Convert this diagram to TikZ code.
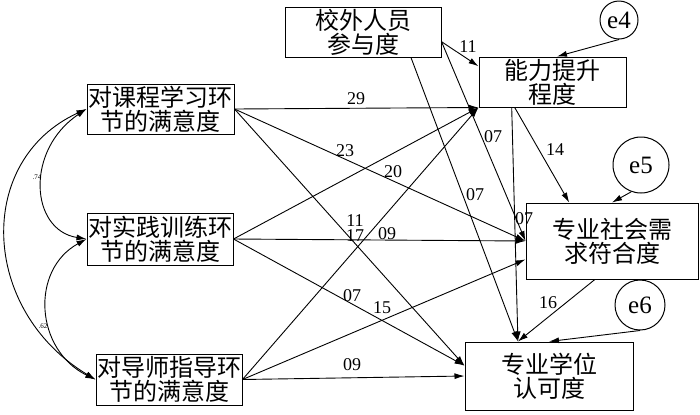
\documentclass[tikz,border=0pt]{standalone}
\usepackage{fontspec}
\setmainfont{Liberation Serif}
\newfontfamily\cjk{Noto Sans CJK SC}
\usetikzlibrary{arrows.meta}

\begin{document}
\begin{tikzpicture}[x=0.5pt, y=-0.5pt, line width=0.45pt,
    every node/.style={font=\fontsize{9}{9}\selectfont},
    var/.style={draw, line width=0.5pt, inner sep=0pt, align=center, font=\cjk\fontsize{12}{12}\selectfont},
    err/.style={draw, line width=0.5pt, circle, inner sep=0pt, font=\fontsize{12.5}{13}\selectfont},
    reg/.style={-{Latex[length=5pt,width=3pt]}},
    cov/.style={{Latex[length=5pt,width=3pt]}-{Latex[length=5pt,width=3pt]}},
    corlbl/.style={font=\fontsize{3.5}{4}\selectfont, inner sep=0pt}]

\useasboundingbox (0,0) rectangle (700,414);

% --- OBSERVED VARIABLES ---
\node[var, minimum width=78pt, minimum height=25pt] (Out) at (363,32) {校外人员\\参与度};
\node[var, minimum width=73.5pt, minimum height=25pt] (Abil) at (552.5,82) {能力提升\\程度};
\node[var, minimum width=73.5pt, minimum height=25pt] (Course) at (160.5,109) {对课程学习环\\节的满意度};
\node[var, minimum width=73pt, minimum height=26pt] (Prac) at (160,239) {对实践训练环\\节的满意度};
\node[var, minimum width=73pt, minimum height=25.5pt] (Tutor) at (169,379.5) {对导师指导环\\节的满意度};
\node[var, minimum width=86pt, minimum height=38pt] (Need) at (612,241) {专业社会需\\求符合度};
\node[var, minimum width=84pt, minimum height=34pt] (Recog) at (549,376) {专业学位\\认可度};

% --- ERROR TERMS ---
\node[err, minimum size=19pt] (E4) at (619,20) {e4};
\node[err, minimum size=28pt] (E5) at (641,165) {e5};
\node[err, minimum size=25pt] (E6) at (640,305) {e6};

% --- CORRELATIONS ---
\draw[cov] (Course.west) .. controls (25,150) and (30,230) .. (Prac.west);
\draw[cov] (Prac.west) .. controls (30,270) and (35,350) .. (Tutor.west);
\draw[cov] (Course.west) .. controls (-25,160) and (-20,310) .. (Tutor.west);
\node[corlbl] (r74) at (37,177) {.74};
\node[corlbl] (r62) at (43,326) {.62};

% --- PATHS ---
\draw[reg] (Out.-7) -- (Abil.168);
\draw[reg] (Out.-7) -- (Need.west);
\draw[reg] (Out.-28) -- (Recog.132);
\draw[reg] (Course.east) -- (Abil.south west);
\draw[reg] (Course.east) -- (Need.west);
\draw[reg] (Course.east) -- (Recog.173);
\draw[reg] (Prac.east) -- (Abil.south west);
\draw[reg] (Prac.east) -- (Need.west);
\draw[reg] (Prac.east) -- (Recog.173);
\draw[reg] (Tutor.east) -- (Abil.south west);
\draw[reg] (Tutor.east) -- (Need.192);
\draw[reg] (Tutor.east) -- (Recog.west);
\draw[reg] (Abil.214) -- (Need.138);
\draw[reg] (Abil.212) -- (Recog.132);
\draw[reg] (Need.246) -- (Recog.132);
\draw[reg] (E4.south) -- (Abil.80);
\draw[reg] (E5.-110) -- (Need.north);
\draw[reg] (E6.south) -- (Recog.north);

% --- COEFFICIENTS ---
\node (c11a) at (468,47) {11};
\node (c29) at (356,99) {29};
\node (c23) at (345,151) {23};
\node (c20) at (393,172) {20};
\node (c11b) at (355,221) {11};
\node (c17) at (355,236) {17};
\node (c09a) at (387,234) {09};
\node (c07a) at (493,137) {07};
\node (c07b) at (475,195) {07};
\node (c07c) at (524,219) {07};
\node (c14) at (555,150) {14};
\node (c07d) at (352,296) {07};
\node (c15) at (382,308) {15};
\node (c16) at (548,303) {16};
\node (c09b) at (352,365) {09};

\end{tikzpicture}
\end{document}
